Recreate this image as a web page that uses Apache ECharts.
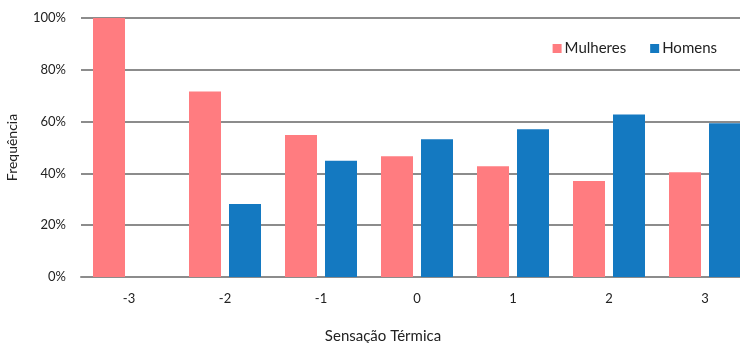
<!DOCTYPE html>
<html>
<head>
<meta charset="utf-8">
<script src="https://cdn.jsdelivr.net/npm/echarts@6/dist/echarts.min.js"></script>
<style>
  html, body { margin: 0; padding: 0; background: #fff; }
  #chart { width: 740px; height: 343px; }
</style>
</head>
<body>
<div id="chart"></div>
<script>
var categories = ['-3', '-2', '-1', '0', '1', '2', '3'];
var mulheres = [100, 71.6, 54.8, 46.6, 42.8, 37.1, 40.4];
var homens = [0, 28.2, 44.9, 53.2, 57.0, 62.7, 59.4];
var yTicks = [0, 20, 40, 60, 80, 100];

var font = 'Lato, "Open Sans", sans-serif';

var chart = echarts.init(document.getElementById('chart'));

chart.setOption({
    animation: false,
    textStyle: { fontFamily: font },
    // plot runs a bit past the right edge, as in the original picture
    grid: { left: 81, right: -13, top: 18, bottom: 66, containLabel: false, outerBoundsMode: 'none' },
    legend: {
        top: 36,
        right: 18,
        itemWidth: 9,
        itemHeight: 9,
        itemGap: 24,
        icon: 'rect',
        textStyle: { fontSize: 15, color: '#222', fontFamily: font, padding: [0, 0, 0, -2] },
        data: ['Mulheres', 'Homens']
    },
    xAxis: {
        type: 'category',
        data: categories,
        name: 'Sensação Térmica',
        nameLocation: 'middle',
        nameGap: 52,
        nameTextStyle: { fontSize: 15, color: '#222', padding: [0, 68, 0, 0] },
        axisLine: { lineStyle: { color: '#8c8c8c', width: 2 } },
        axisTick: { show: false },
        axisLabel: { fontSize: 13, color: '#222', margin: 15 }
    },
    yAxis: {
        type: 'value',
        min: yTicks[0],
        max: yTicks[yTicks.length - 1],
        interval: 20,
        name: 'Frequência',
        nameLocation: 'middle',
        nameGap: 62,
        nameTextStyle: { fontSize: 14, color: '#222' },
        axisLine: { show: false },
        axisTick: { show: false },
        axisLabel: { fontSize: 13, color: '#222', margin: 15, formatter: '{value}%' },
        splitLine: { lineStyle: { color: '#8c8c8c', width: 2 } }
    },
    series: [
        {
            name: 'Mulheres',
            type: 'bar',
            data: mulheres,
            barGap: '25%',
            barCategoryGap: '25%',
            itemStyle: { color: '#FF7C80' }
        },
        {
            name: 'Homens',
            type: 'bar',
            data: homens,
            itemStyle: { color: '#1479C1' }
        }
    ]
});
</script>
</body>
</html>
